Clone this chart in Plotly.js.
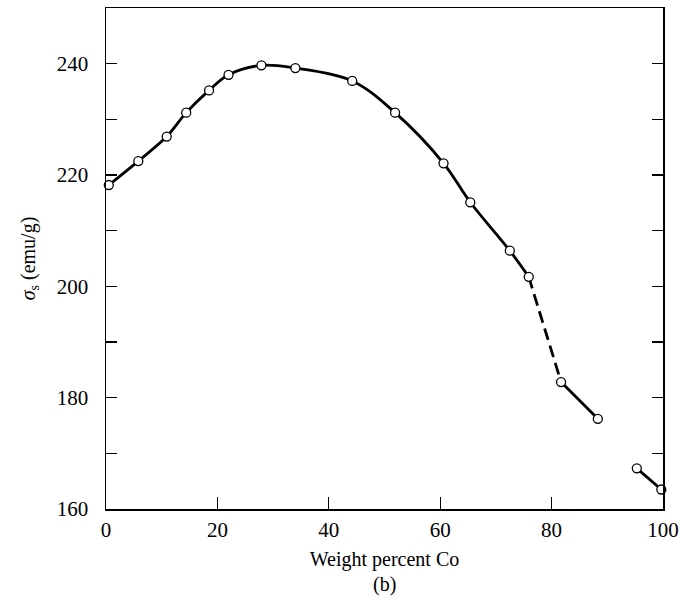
<!DOCTYPE html>
<html>
<head>
<meta charset="utf-8">
<script src="https://cdn.plot.ly/plotly-3.0.1.min.js"></script>
<style>html,body{margin:0;padding:0;background:#fff;}#chart{width:680px;height:600px;}</style>
</head>
<body>
<div id="chart"></div>
<script>
// Weight percent Co and saturation magnetization (emu/g)
const mainX = [0.5, 5.8, 10.9, 14.4, 18.5, 22.0, 27.9, 34.0, 44.2, 51.9, 60.6, 65.4, 72.5, 75.9];
const mainY = [218.2, 222.5, 226.9, 231.2, 235.2, 238.0, 239.7, 239.2, 236.9, 231.2, 222.1, 215.1, 206.4, 201.7];
const dashX = [75.9, 81.7];
const dashY = [201.7, 182.8];
const tailX = [81.7, 88.3];
const tailY = [182.8, 176.2];
const endX = [95.3, 99.7];
const endY = [167.3, 163.5];
const yTickVals = [160, 180, 200, 220, 240];
const xTickVals = [0, 20, 40, 60, 80, 100];

const allX = mainX.concat(dashX.slice(1), tailX.slice(1), endX);
const allY = mainY.concat(dashY.slice(1), tailY.slice(1), endY);

const lineStyle = {color: '#000', width: 2.8};
const traces = [
  {x: mainX, y: mainY, mode: 'lines', line: Object.assign({shape: 'spline', smoothing: 1}, lineStyle), hoverinfo: 'skip'},
  {x: dashX, y: dashY, mode: 'lines', line: Object.assign({dash: '12px,6px'}, lineStyle), hoverinfo: 'skip'},
  {x: tailX, y: tailY, mode: 'lines', line: lineStyle, hoverinfo: 'skip'},
  {x: endX, y: endY, mode: 'lines', line: lineStyle, hoverinfo: 'skip'},
  {x: allX, y: allY, mode: 'markers', marker: {symbol: 'circle', size: 9, color: '#fff', line: {color: '#000', width: 1.3}}, cliponaxis: false}
];

const font = {family: '"Liberation Serif", "Times New Roman", serif', color: '#000', size: 20};
const layout = {
  width: 680, height: 600,
  margin: {l: 106, r: 17, t: 8, b: 91},
  paper_bgcolor: '#fff', plot_bgcolor: '#fff',
  showlegend: false,
  font: font,
  xaxis: {
    range: [0, 100], tickvals: xTickVals, ticks: 'inside', ticklen: 12, tickwidth: 1.3, tickcolor: '#000',
    showline: true, linecolor: '#000', linewidth: 1.5, mirror: true, showgrid: false, zeroline: false,
    tickfont: {size: 21}, ticklabelstandoff: 1, ticklabeloverflow: 'allow',
    title: {text: 'Weight percent Co', font: {size: 20}, standoff: 11}
  },
  yaxis: {
    range: [160, 250], tickvals: yTickVals, ticks: 'inside', ticklen: 11, tickwidth: 1.3, tickcolor: '#000',
    minor: {dtick: 10, tick0: 160, ticks: 'inside', ticklen: 11, tickwidth: 1.3, tickcolor: '#000', showgrid: false},
    showline: true, linecolor: '#000', linewidth: 1.5, mirror: 'ticks', showgrid: false, zeroline: false,
    tickfont: {size: 21}, ticklabelstandoff: 12,
    title: {text: '<i>σ</i><sub>s</sub> (emu/g)', font: {size: 20}, standoff: 16}
  },
  annotations: [
    {text: '(b)', xref: 'paper', yref: 'paper', x: 0.5, y: -0.151, xanchor: 'center', yanchor: 'middle', showarrow: false, font: {size: 20}}
  ]
};
Plotly.newPlot('chart', traces, layout, {displayModeBar: false, staticPlot: true});
</script>
</body>
</html>
